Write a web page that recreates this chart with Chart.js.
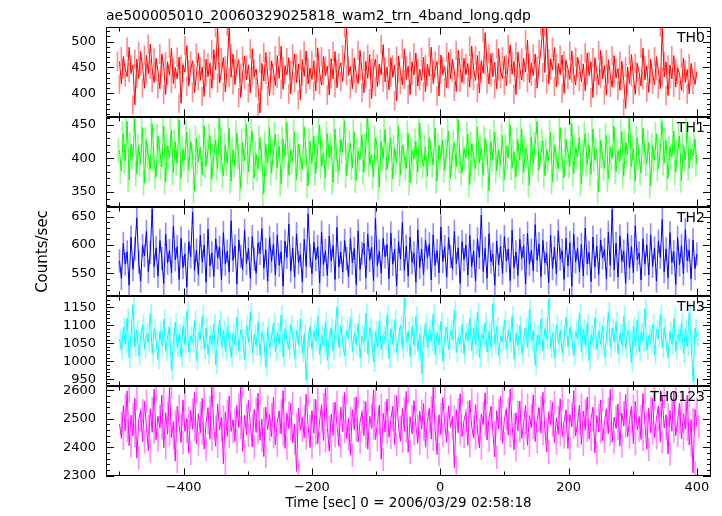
<!DOCTYPE html>
<html>
<head>
<meta charset="utf-8">
<script src="https://cdn.jsdelivr.net/npm/chart.js@4.4.1/dist/chart.umd.min.js"></script>
<style>
  html, body { margin: 0; padding: 0; background: #fff; }
  #wrap { width: 722px; height: 516px; }
</style>
</head>
<body>
<div id="wrap"><canvas id="lc" width="722" height="516"></canvas></div>
<script>
// light curve bins: start time and bin width (sec)
const binStart = -500;
const binWidth = 3;

const bandNames = ['TH0', 'TH1', 'TH2', 'TH3', 'TH0123'];
const bandColors = ['#ff0000', '#00ff00', '#0000ff', '#00ffff', '#ff00ff'];
const errColors = ['rgba(255,0,0,0.45)', 'rgba(0,255,0,0.45)', 'rgba(0,0,255,0.45)', 'rgba(0,255,255,0.45)', 'rgba(255,0,255,0.45)'];
// typical 1-sigma error per bin, counts/sec
const bandErrors = [18, 18, 20, 26, 40];

const th0 = [
  462, 418, 471, 447, 432, 489, 440, 455, 378, 466, 429, 481, 452, 410, 474, 438, 495, 447, 421, 468,
  443, 409, 476, 452, 398, 461, 435, 487, 419, 450, 428, 470, 381, 455, 441, 492, 414, 446, 463, 402,
  437, 478, 425, 451, 394, 466, 432, 459, 410, 484, 445, 527, 420, 441, 469, 403, 453, 530, 431, 476,
  417, 448, 465, 392, 439, 472, 426, 455, 401, 486, 433, 447, 412, 362, 458, 424, 479, 437, 396, 462,
  445, 415, 473, 429, 491, 408, 452, 436, 469, 399, 444, 476, 421, 457, 388, 465, 433, 482, 418, 449,
  427, 463, 405, 488, 440, 416, 471, 434, 453, 397, 467, 428, 481, 411, 446, 459, 423, 474, 526, 435,
  452, 409, 468, 438, 419, 483, 444, 401, 462, 429, 475, 390, 448, 466, 413, 457, 436, 494, 422, 451,
  407, 469, 431, 455, 386, 472, 440, 417, 486, 427, 453, 398, 461, 435, 478, 414, 447, 425, 470, 403,
  456, 433, 489, 419, 445, 462, 395, 474, 437, 452, 411, 479, 428, 466, 442, 404, 483, 450, 421, 468,
  436, 458, 412, 491, 447, 425, 473, 401, 463, 439, 517, 454, 418, 477, 432, 460, 409, 486, 443, 429,
  471, 415, 456, 494, 437, 462, 398, 480, 449, 426, 468, 441, 503, 421, 459, 434, 476, 410, 452, 485,
  531, 440, 529, 418, 467, 445, 489, 413, 458, 436, 474, 400, 463, 448, 427, 482, 439, 416, 470, 451,
  423, 457, 405, 478, 434, 461, 392, 469, 442, 416, 483, 428, 454, 397, 465, 437, 412, 473, 430, 448,
  406, 462, 425, 371, 451, 419, 475, 433, 398, 458, 441, 414, 487, 426, 453, 402, 466, 438, 417, 471,
  444, 409, 528, 432, 461, 396, 455, 428, 473, 412, 449, 437, 406, 468, 421, 446, 399, 458, 434, 417, 442
];

const th1 = [
  412, 381, 437, 396, 455, 368, 421, 402, 459, 377, 418, 391, 446, 363, 428, 405, 384, 452, 399, 372,
  433, 410, 387, 448, 365, 419, 401, 442, 378, 425, 393, 457, 370, 414, 398, 439, 382, 426, 404, 351,
  430, 395, 417, 376, 449, 388, 411, 434, 369, 403, 427, 385, 460, 397, 374, 420, 392, 445, 366, 413,
  389, 438, 402, 355, 424, 396, 451, 380, 415, 441, 371, 407, 384, 431, 399, 347, 422, 393, 446, 378,
  409, 436, 386, 418, 362, 429, 403, 454, 375, 412, 395, 440, 368, 421, 400, 383, 447, 406, 359, 426,
  392, 433, 377, 415, 450, 388, 408, 371, 437, 401, 419, 364, 444, 397, 381, 428, 410, 456, 374, 405,
  423, 386, 440, 367, 411, 398, 435, 379, 418, 462, 391, 406, 372, 431, 414, 357, 425, 400, 443, 383,
  407, 430, 369, 416, 394, 448, 376, 420, 402, 385, 438, 363, 412, 399, 426, 380, 453, 404, 388, 417,
  373, 432, 408, 390, 445, 366, 419, 401, 427, 382, 411, 441, 370, 403, 424, 387, 458, 396, 378, 414,
  400, 436, 361, 422, 405, 384, 447, 393, 416, 375, 430, 409, 352, 425, 398, 439, 381, 413, 390, 434,
  368, 418, 401, 450, 386, 410, 372, 428, 397, 443, 379, 415, 404, 360, 432, 392, 421, 455, 383, 407,
  426, 374, 412, 396, 439, 365, 419, 403, 384, 446, 399, 371, 428, 410, 388, 452, 377, 416, 402, 431,
  362, 409, 437, 391, 420, 376, 444, 398, 413, 350, 427, 404, 385, 434, 369, 417, 400, 448, 380, 411,
  395, 440, 373, 423, 406, 461, 387, 415, 366, 431, 401, 378, 445, 408, 392, 424, 359, 419, 397, 436,
  384, 412, 455, 393, 427, 370, 416, 402, 441, 379, 409, 433, 367, 420, 398, 447, 385, 414, 403, 429, 391
];

const th2 = [
  572, 541, 603, 566, 588, 529, 614, 557, 593, 648, 570, 536, 599, 581, 624, 553, 587, 664, 562, 595,
  545, 608, 576, 532, 619, 568, 590, 551, 633, 574, 597, 539, 612, 560, 584, 526, 606, 579, 658, 555,
  591, 548, 617, 570, 600, 534, 628, 563, 586, 544, 611, 577, 596, 538, 622, 566, 589, 552, 643, 573,
  598, 531, 609, 580, 556, 626, 567, 594, 541, 615, 575, 550, 604, 585, 629, 559, 592, 536, 613, 571,
  602, 547, 618, 564, 588, 527, 607, 578, 637, 554, 595, 543, 620, 569, 583, 535, 610, 562, 655, 581,
  549, 605, 574, 597, 533, 623, 565, 590, 546, 616, 572, 599, 539, 631, 561, 587, 552, 608, 576, 544,
  611, 568, 594, 530, 625, 557, 585, 603, 542, 619, 573, 596, 537, 647, 563, 589, 550, 612, 579, 601,
  540, 621, 566, 592, 528, 606, 575, 640, 555, 598, 545, 614, 569, 586, 534, 627, 560, 593, 548, 609,
  577, 602, 538, 618, 564, 590, 551, 632, 571, 597, 543, 613, 580, 558, 624, 567, 595, 532, 606, 574,
  600, 547, 617, 562, 589, 536, 611, 578, 653, 553, 594, 541, 620, 570, 584, 529, 607, 565, 598, 550,
  615, 572, 593, 537, 626, 560, 588, 546, 610, 576, 599, 531, 621, 566, 591, 554, 636, 573, 602, 544,
  608, 568, 585, 533, 617, 558, 596, 549, 625, 575, 590, 539, 612, 563, 604, 527, 619, 570, 594, 552,
  601, 545, 630, 567, 587, 535, 614, 561, 598, 548, 609, 577, 592, 540, 623, 564, 663, 556, 603, 543,
  616, 571, 589, 532, 620, 559, 597, 551, 634, 574, 586, 538, 611, 566, 600, 547, 618, 562, 595, 536,
  607, 578, 645, 553, 593, 542, 622, 569, 588, 530, 613, 565, 599, 549, 627, 572, 591, 540, 609, 558, 584
];

const th3 = [
  1062, 1031, 1095, 1048, 1120, 1009, 1074, 1157, 1040, 1088, 1016, 1067, 1103, 1035, 1079, 1052, 1132, 1021, 1091, 1058,
  1005, 1084, 1043, 1117, 1028, 1069, 1096, 975, 1054, 1108, 1037, 1076, 1012, 1099, 1046, 1140, 1025, 1071, 1050, 1113,
  1002, 1081, 1060, 1126, 1033, 1093, 1019, 1072, 1047, 1104, 990, 1065, 1115, 1039, 1086, 1027, 1098, 1056, 1011, 1078,
  1044, 1123, 1030, 1089, 1063, 1004, 1101, 1051, 1136, 1022, 1075, 1041, 1110, 1015, 1083, 1057, 985, 1094, 1036, 1068,
  1107, 1026, 1080, 1049, 1129, 1013, 1091, 1059, 1034, 1102, 1070, 1008, 1087, 1045, 1118, 1023, 1077, 948, 1061, 1097,
  1032, 1085, 1055, 1124, 1018, 1073, 1042, 1109, 1003, 1066, 1092, 1029, 1082, 1150, 1038, 1100, 1050, 1014, 1087, 1064,
  1121, 1027, 1079, 1044, 1105, 1010, 1071, 1053, 1134, 1020, 1095, 1060, 997, 1083, 1040, 1112, 1031, 1074, 1058, 1128,
  1007, 1090, 1047, 1116, 1024, 1069, 1101, 1035, 1176, 1052, 1084, 1012, 1097, 1043, 1125, 1028, 1076, 965, 1063, 1106,
  1037, 1089, 1055, 1131, 1017, 1080, 1046, 1111, 1001, 1072, 1094, 1033, 1086, 1059, 1142, 1025, 1068, 1049, 1103, 1019,
  1081, 1057, 1119, 1030, 1092, 1045, 1137, 1011, 1075, 1062, 1108, 1026, 1083, 1039, 1160, 1048, 1096, 1015, 1070, 1054,
  1114, 1034, 1088, 1051, 1127, 1006, 1077, 1043, 1100, 1020, 1066, 1093, 1038, 1145, 1056, 1085, 989, 1073, 1047, 1118,
  1029, 1091, 1061, 1172, 1036, 1079, 1009, 1102, 1050, 1087, 1023, 1068, 1123, 1041, 1095, 1058, 1016, 1082, 1064, 1133,
  1027, 1090, 1045, 1106, 1002, 1074, 1056, 1121, 1032, 1085, 1048, 1099, 1013, 1070, 1138, 1039, 1093, 1053, 1110, 1021,
  1078, 1044, 1125, 1035, 1086, 1060, 995, 1097, 1042, 1115, 1026, 1081, 1055, 1146, 1031, 1072, 1049, 1104, 1018, 1089,
  1063, 1130, 1037, 1094, 1052, 1010, 1083, 1046, 1119, 1029, 1076, 1058, 1107, 1022, 1088, 1041, 1135, 1050, 944, 1092, 1067
];

const th0123 = [
  2482, 2431, 2546, 2458, 2597, 2405, 2513, 2440, 2572, 2362, 2497, 2528, 2419, 2561, 2473, 2388, 2535, 2452, 2604, 2426,
  2509, 2467, 2583, 2398, 2521, 2445, 2610, 2434, 2490, 2351, 2543, 2477, 2416, 2566, 2456, 2502, 2379, 2530, 2463, 2594,
  2411, 2518, 2449, 2571, 2393, 2486, 2539, 2428, 2612, 2471, 2403, 2552, 2460, 2506, 2341, 2524, 2438, 2580, 2455, 2495,
  2420, 2547, 2469, 2613, 2385, 2512, 2443, 2564, 2476, 2401, 2533, 2451, 2590, 2424, 2499, 2367, 2541, 2462, 2515, 2437,
  2575, 2408, 2488, 2527, 2446, 2599, 2396, 2520, 2465, 2554, 2415, 2480, 2315, 2537, 2459, 2506, 2432, 2586, 2474, 2399,
  2529, 2448, 2568, 2412, 2493, 2549, 2423, 2607, 2468, 2386, 2516, 2441, 2558, 2478, 2404, 2540, 2455, 2592, 2430, 2501,
  2372, 2532, 2461, 2577, 2418, 2489, 2523, 2440, 2560, 2393, 2510, 2466, 2601, 2427, 2484, 2548, 2357, 2519, 2453, 2569,
  2435, 2497, 2544, 2409, 2581, 2470, 2421, 2536, 2458, 2596, 2382, 2507, 2447, 2563, 2476, 2414, 2526, 2463, 2553, 2400,
  2491, 2538, 2428, 2611, 2457, 2374, 2514, 2444, 2574, 2482, 2417, 2545, 2469, 2505, 2328, 2531, 2450, 2588, 2438, 2494,
  2522, 2406, 2565, 2472, 2433, 2550, 2461, 2397, 2517, 2480, 2591, 2425, 2503, 2542, 2451, 2366, 2528, 2465, 2578, 2413,
  2499, 2534, 2442, 2605, 2476, 2391, 2521, 2457, 2562, 2431, 2487, 2547, 2407, 2511, 2468, 2584, 2420, 2496, 2539, 2449,
  2593, 2462, 2383, 2525, 2478, 2557, 2416, 2504, 2445, 2570, 2437, 2491, 2530, 2395, 2516, 2471, 2599, 2439, 2485, 2548,
  2410, 2527, 2459, 2576, 2428, 2498, 2540, 2380, 2512, 2454, 2566, 2422, 2489, 2535, 2447, 2603, 2418, 2506, 2466, 2552,
  2404, 2520, 2474, 2585, 2436, 2493, 2543, 2412, 2561, 2460, 2508, 2427, 2589, 2481, 2392, 2537, 2450, 2572, 2434, 2500,
  2545, 2419, 2579, 2467, 2514, 2376, 2529, 2456, 2596, 2441, 2490, 2555, 2429, 2518, 2463, 2582, 2408, 2497, 2310, 2533, 2472
];

// axis ranges and tick labels
const xRange = [-521, 422];
const xTicks = [-400, -200, 0, 200, 400];
const xMinorTicks = [-500, -300, -100, 100, 300];
const yRanges = [[355, 528], [328, 462], [509, 668], [931, 1180], [2299, 2614]];
const yTicks = [
  [400, 450, 500],
  [350, 400, 450],
  [550, 600, 650],
  [950, 1000, 1050, 1100, 1150],
  [2300, 2400, 2500, 2600],
];
const yMinorStep = [10, 10, 10, 10, 20];

const series = [th0, th1, th2, th3, th0123];
const panelIds = ['y0', 'y1', 'y2', 'y3', 'y4'];

const FONT = '"DejaVu Sans", sans-serif';
Chart.defaults.font.family = FONT;
Chart.defaults.color = '#000';

const datasets = [];
series.forEach((vals, k) => {
  const t = i => binStart + i * binWidth;
  // error bars as thin floating bars underneath the curve
  datasets.push({
    type: 'bar',
    label: bandNames[k] + ' err',
    data: vals.map((v, i) => ({ x: t(i), y: [v - bandErrors[k], v + bandErrors[k]] })),
    yAxisID: panelIds[k],
    xAxisID: 'x',
    backgroundColor: errColors[k],
    borderWidth: 0,
    barThickness: 1,
    order: 2,
  });
  datasets.push({
    type: 'line',
    label: bandNames[k],
    data: vals.map((v, i) => ({ x: t(i), y: v })),
    yAxisID: panelIds[k],
    xAxisID: 'x',
    borderColor: bandColors[k],
    borderWidth: 1,
    pointRadius: 0,
    tension: 0,
    fill: false,
    order: 1,
  });
});

const scales = {
  x: {
    type: 'linear',
    position: 'bottom',
    offset: false,
    min: xRange[0],
    max: xRange[1],
    grid: { display: false, drawTicks: false, tickLength: 0, offset: false },
    border: { display: false },
    afterBuildTicks: s => { s.ticks = xTicks.map(v => ({ value: v })); },
    afterFit: s => { s.height = 40; },
    ticks: {
      padding: 4,
      autoSkip: false,
      maxRotation: 0,
      font: { size: 13 },
      callback: v => (v < 0 ? '\u2212' + Math.abs(v) : String(v)),
    },
    title: {
      display: true,
      text: 'Time [sec] 0 = 2006/03/29 02:58:18',
      font: { size: 13.5 },
      padding: { top: 0, bottom: 4 },
    },
  },
};
// stacked left axes are laid out last-first, so add the bottom panel first
panelIds.slice().reverse().forEach(id => {
  const k = panelIds.indexOf(id);
  scales[id] = {
    type: 'linear',
    position: 'left',
    stack: 'panels',
    stackWeight: 1,
    beginAtZero: false,
    min: yRanges[k][0],
    max: yRanges[k][1],
    grid: { display: false, drawTicks: false, tickLength: 0 },
    border: { display: false },
    afterBuildTicks: s => { s.ticks = yTicks[k].map(v => ({ value: v })); },
    afterFit: s => { s.width = 106; },
    ticks: { padding: 10, autoSkip: false, font: { size: 13 }, callback: v => String(v) },
  };
});

// QDP-style frames, inward ticks and panel labels
const framePlugin = {
  id: 'qdpFrames',
  afterDatasetsDraw(chart) {
    const { ctx, chartArea } = chart;
    const xs = chart.scales.x;
    const L = chartArea.left, R = chartArea.right;
    ctx.save();
    ctx.strokeStyle = '#000';
    ctx.lineWidth = 1;
    panelIds.forEach((id, k) => {
      const ys = chart.scales[id];
      const T = Math.round(ys.top) + 0.5, B = Math.round(ys.bottom) - 0.5;
      ctx.beginPath();
      ctx.rect(Math.round(L) + 0.5, T, Math.round(R) - Math.round(L) - 1, B - T);
      const tick = (px, len) => {
        px = Math.round(px) + 0.5;
        ctx.moveTo(px, T); ctx.lineTo(px, T + len);
        ctx.moveTo(px, B); ctx.lineTo(px, B - len);
      };
      xTicks.forEach(v => tick(xs.getPixelForValue(v), 7));
      xMinorTicks.forEach(v => tick(xs.getPixelForValue(v), 4));
      const ytick = (py, len) => {
        py = Math.round(py) + 0.5;
        ctx.moveTo(L, py); ctx.lineTo(L + len, py);
        ctx.moveTo(R, py); ctx.lineTo(R - len, py);
      };
      const [lo, hi] = yRanges[k];
      const st = yMinorStep[k];
      for (let v = Math.ceil(lo / st) * st; v <= hi; v += st) {
        ytick(ys.getPixelForValue(v), yTicks[k].includes(v) ? 8 : 4);
      }
      ctx.stroke();

      ctx.fillStyle = '#000';
      ctx.font = '14px ' + FONT;
      ctx.textAlign = 'right';
      ctx.textBaseline = 'alphabetic';
      ctx.fillText(bandNames[k], R - 6, ys.top + 15);
    });

    ctx.font = '14px ' + FONT;
    ctx.textAlign = 'left';
    ctx.fillText('ae500005010_20060329025818_wam2_trn_4band_long.qdp', L, 20);

    const top = chart.scales.y0.top, bottom = chart.scales.y4.bottom;
    ctx.translate(43, (top + bottom) / 2);
    ctx.rotate(-Math.PI / 2);
    ctx.font = '15px ' + FONT;
    ctx.textAlign = 'center';
    ctx.textBaseline = 'middle';
    ctx.fillText('Counts/sec', 0, 0);
    ctx.restore();
  },
};

new Chart(document.getElementById('lc'), {
  type: 'line',
  data: { datasets },
  options: {
    responsive: false,
    animation: false,
    devicePixelRatio: 1,
    layout: { padding: { top: 27, right: 11, left: 0, bottom: 0 } },
    plugins: { legend: { display: false }, tooltip: { enabled: false } },
    scales,
  },
  plugins: [framePlugin],
});
</script>
</body>
</html>
